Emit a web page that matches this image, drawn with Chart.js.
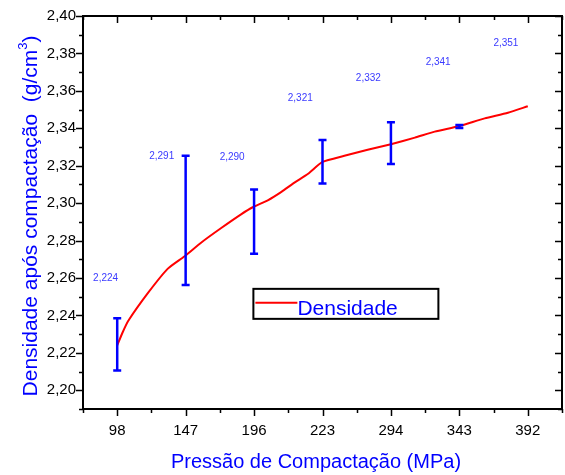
<!DOCTYPE html>
<html><head><meta charset="utf-8">
<script src="https://cdn.jsdelivr.net/npm/chart.js@4.4.1/dist/chart.umd.min.js"></script>
<style>html,body{margin:0;padding:0;background:#fff}#wrap{width:565px;height:475px}</style>
</head><body><div id="wrap"><canvas id="c" width="565" height="475"></canvas></div>
<script>
// Categories (compaction pressure, MPa)
const categories = ['98','147','196','223','294','343','392'];
// Y tick labels
const yTickValues = [2.20,2.22,2.24,2.26,2.28,2.30,2.32,2.34,2.36,2.38,2.40];
const yTickLabels = ['2,20','2,22','2,24','2,26','2,28','2,30','2,32','2,34','2,36','2,38','2,40'];
// Density curve (x as category position)
const curveX = [0,0.08,0.16,0.45,0.74,0.98,1.23,1.52,1.81,1.98,2.20,2.40,2.59,2.79,3.0,3.32,3.66,4.0,4.35,4.64,5.0,5.37,5.71,6.0];
const curveY = [2.224,2.231,2.237,2.252,2.265,2.2715,2.279,2.2867,2.294,2.2978,2.3015,2.306,2.311,2.3157,2.322,2.3253,2.3285,2.3315,2.335,2.3382,2.3412,2.3453,2.3483,2.3518];
// Error bars
const errCenter = [2.224,2.291,2.290,2.322,2.332,2.341,2.351];
const errLow = [2.2106,2.2563,2.2729,2.3105,2.3209,2.3402,2.351];
const errHigh = [2.2385,2.3253,2.3073,2.3337,2.3432,2.3418,2.351];
// Value annotations
const labelTexts = ['2,224','2,291','2,290','2,321','2,332','2,341','2,351'];
const labelX = [-0.17,0.65,1.68,2.675,3.67,4.69,5.68];
const labelY = [2.2597,2.3253,2.3244,2.3562,2.3668,2.3753,2.3853];

const FONT = '"Liberation Sans", Arial, sans-serif';

const custom = {
  id:'custom',
  afterDraw(chart){
    const ctx = chart.ctx, xs = chart.scales.x, ys = chart.scales.y, a = chart.chartArea;
    ctx.save();
    // frame
    ctx.strokeStyle = '#000'; ctx.lineWidth = 2;
    ctx.strokeRect(a.left, a.top, a.right-a.left, a.bottom-a.top);
    // ticks
    ctx.lineWidth = 1.5;
    ctx.beginPath();
    for (let v = 2.19; v <= 2.4001; v += 0.01) {
      const y = Math.round(ys.getPixelForValue(v)) + 0.5;
      const major = Math.abs(Math.round(v*100) % 2) === 0;
      const L = major ? 7 : 4;
      ctx.moveTo(a.left - L, y); ctx.lineTo(a.left, y);
      ctx.moveTo(a.right, y); ctx.lineTo(a.right - L, y);
    }
    for (let i = -0.5; i <= 6.5001; i += 0.5) {
      const x = Math.round(xs.getPixelForValue(i)) + 0.5;
      const major = Math.abs(i - Math.round(i)) < 1e-6;
      const L = major ? 7 : 4;
      ctx.moveTo(x, a.bottom); ctx.lineTo(x, a.bottom + L);
      ctx.moveTo(x, a.top); ctx.lineTo(x, a.top + L);
    }
    ctx.stroke();
    // error bars
    ctx.strokeStyle = '#0000ff'; ctx.lineWidth = 2.5;
    ctx.beginPath();
    for (let i = 0; i < errCenter.length; i++) {
      if (errHigh[i] - errLow[i] < 1e-6) continue;
      const x = xs.getPixelForValue(i);
      const y1 = ys.getPixelForValue(errHigh[i]), y2 = ys.getPixelForValue(errLow[i]);
      ctx.moveTo(x, y1); ctx.lineTo(x, y2);
      ctx.moveTo(x-4, y1); ctx.lineTo(x+4, y1);
      ctx.moveTo(x-4, y2); ctx.lineTo(x+4, y2);
    }
    ctx.stroke();
    // annotations
    ctx.fillStyle = '#3a3aff'; ctx.font = '10px ' + FONT;
    ctx.textAlign = 'center'; ctx.textBaseline = 'middle';
    for (let i = 0; i < labelTexts.length; i++) {
      ctx.fillText(labelTexts[i], xs.getPixelForValue(labelX[i]), ys.getPixelForValue(labelY[i]));
    }
    // legend box
    const lx = xs.getPixelForValue(1.99), ly = ys.getPixelForValue(2.2542);
    const lw = 185, lh = 30;
    ctx.strokeStyle = '#000'; ctx.lineWidth = 2;
    ctx.strokeRect(lx, ly, lw, lh);
    ctx.strokeStyle = '#ff0000'; ctx.lineWidth = 2;
    ctx.beginPath(); ctx.moveTo(lx+2, ly+14); ctx.lineTo(lx+44, ly+14); ctx.stroke();
    ctx.fillStyle = '#0000ff'; ctx.font = '21px ' + FONT;
    ctx.textAlign = 'left'; ctx.textBaseline = 'alphabetic';
    ctx.fillText('Densidade', lx+44, ly+26);
    // x title
    ctx.font = '20px ' + FONT; ctx.textAlign = 'center';
    ctx.fillText('Pressão de Compactação (MPa)', 316, 468);
    // y title with superscript
    ctx.translate(37, 216);
    ctx.rotate(-Math.PI/2);
    const t1 = 'Densidade após compactação  (g/cm', t2 = '3', t3 = ')';
    ctx.font = '21px ' + FONT;
    const w1 = ctx.measureText(t1).width, w3 = ctx.measureText(t3).width;
    ctx.font = '13px ' + FONT;
    const w2 = ctx.measureText(t2).width;
    const total = w1 + w2 + w3;
    let sx = -total/2;
    ctx.textAlign = 'left';
    ctx.font = '21px ' + FONT; ctx.fillText(t1, sx, 0); sx += w1;
    ctx.font = '13px ' + FONT; ctx.fillText(t2, sx, -10); sx += w2;
    ctx.font = '21px ' + FONT; ctx.fillText(t3, sx, 0);
    ctx.restore();
  }
};

new Chart(document.getElementById('c'), {
  type: 'line',
  data: {
    datasets: [{
      label: 'Densidade',
      data: curveX.map((x,i)=>({x:x, y:curveY[i]})),
      borderColor: '#ff0000', borderWidth: 2, pointRadius: 0, tension: 0.2, fill: false
    }]
  },
  options: {
    responsive: false, animation: false, devicePixelRatio: 1,
    layout: { padding: { top: 14, right: 3, left: 0, bottom: 0 } },
    plugins: { legend: { display: false }, tooltip: { enabled: false } },
    scales: {
      x: {
        type: 'linear', min: -0.5, max: 6.5,
        grid: { display: false, drawTicks: false }, border: { display: false },
        afterBuildTicks(s){ s.ticks = categories.map((c,i)=>({value:i})); },
        ticks: { color: '#000', font: { size: 15, family: FONT }, padding: 13, maxRotation: 0,
          callback: (v)=> categories[Math.round(v)] },
        afterFit(s){ s.height = 66; }
      },
      y: {
        type: 'linear', min: 2.19, max: 2.40,
        grid: { display: false, drawTicks: false }, border: { display: false },
        afterBuildTicks(s){ s.ticks = yTickValues.map(v=>({value:v})); },
        ticks: { color: '#000', font: { size: 15, family: FONT }, padding: 7,
          callback: (v)=> { const i = yTickValues.findIndex(t=>Math.abs(t-v)<1e-6); return i>=0 ? yTickLabels[i] : ''; } },
        afterFit(s){ s.width = 83; }
      }
    }
  },
  plugins: [custom]
});
</script></body></html>
